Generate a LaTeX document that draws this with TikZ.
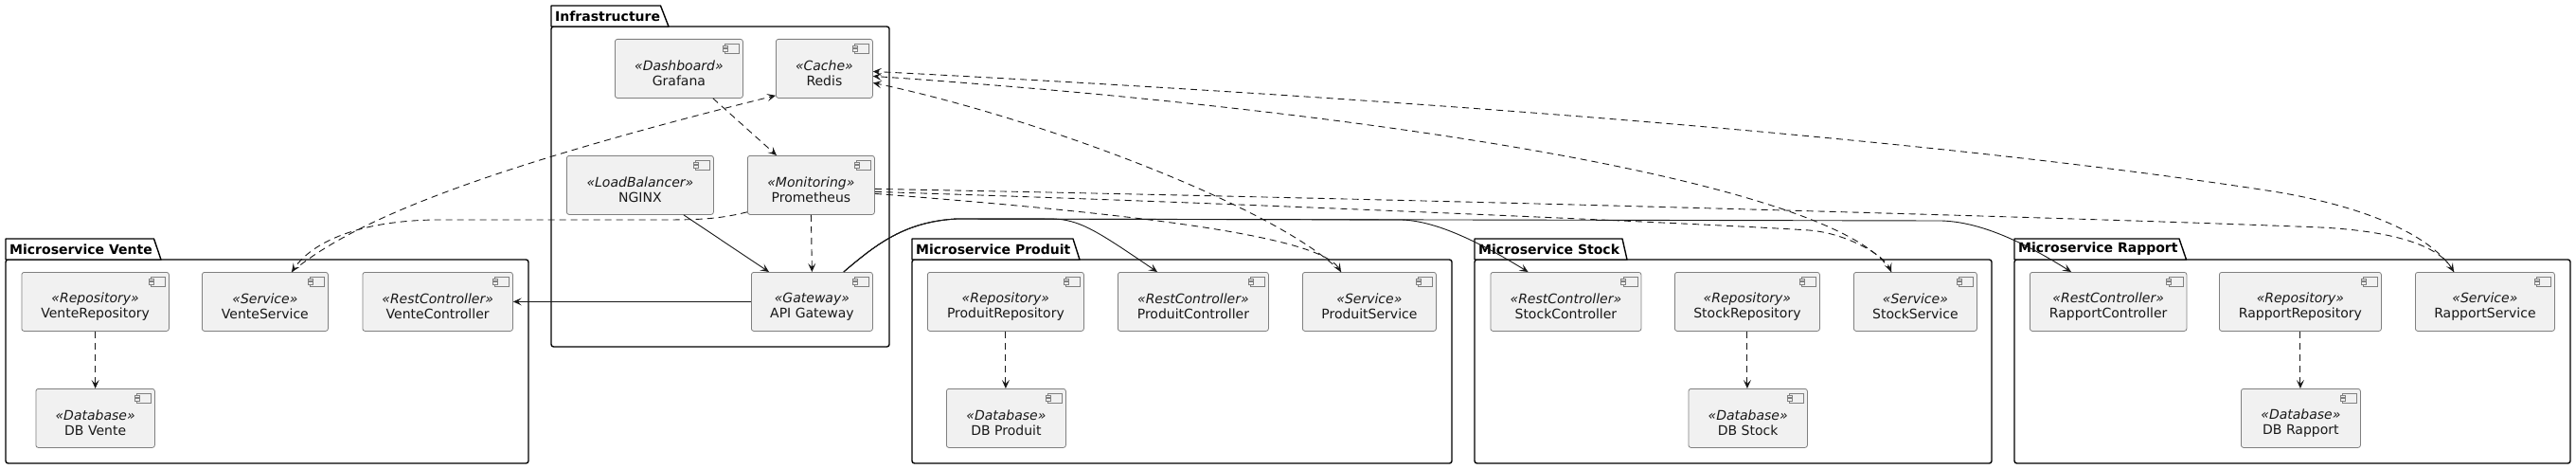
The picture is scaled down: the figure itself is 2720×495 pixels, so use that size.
\documentclass[tikz,border=0pt]{standalone}
\usepackage{fontspec}
\setmainfont{DejaVu Sans}
\usetikzlibrary{arrows.meta,calc}
\definecolor{boxfill}{HTML}{F1F1F1}
\definecolor{boxline}{HTML}{808080}
\definecolor{arr}{HTML}{181818}
\tikzset{
  comp/.style={draw=boxline, fill=boxfill, line width=0.8pt, rounded corners=2.5pt, inner sep=0pt, anchor=north west},
  ctext/.style={font=\fontsize{14}{16.2}\selectfont, align=center, inner sep=0pt, text=arr},
  pkg/.style={draw=black, line width=1.4pt, line join=round, fill=white},
  ptitle/.style={font=\bfseries\fontsize{14}{16}\selectfont, anchor=west, inner sep=0pt},
  icon/.style={draw=boxline, line width=0.7pt, fill=boxfill},
  sarrow/.style={draw=arr, line width=0.9pt, -{Stealth[length=9pt,width=8pt,inset=4pt]}},
  darrow/.style={sarrow, dash pattern=on 7pt off 5pt},
}
\newcommand\mycomp[7]{%
  \node[comp, minimum width={#4-#2}, minimum height={#5-#3}] (#1) at (#2,#3) {};
  \node[ctext] (#1-t) at ([yshift=-5pt]#1.center) {\textit{«#6»}\\#7};
  \draw[icon] ([xshift=-19pt,yshift=-5pt]#1.north east) rectangle ([xshift=-4pt,yshift=-15pt]#1.north east);
  \draw[icon] ([xshift=-21.5pt,yshift=-7pt]#1.north east) rectangle ([xshift=-16.5pt,yshift=-9.3pt]#1.north east);
  \draw[icon] ([xshift=-21.5pt,yshift=-10.7pt]#1.north east) rectangle ([xshift=-16.5pt,yshift=-13pt]#1.north east);
}
\newcommand\mypkg[9]{%
  \draw[pkg, rounded corners=2.5pt] (#2,#4) -- (#5,#4) -- (#5,#6) -- (#2,#6) -- cycle;
  \draw[pkg] (#2,#4) -- (#2,#3) -- (#7,#3) -- (#8,#4) -- cycle;
  \node[ptitle] (#1) at ({#2+4},{(#3+#4)/2}) {#9};
}
\begin{document}
\begin{tikzpicture}[x=1pt,y=-1pt]
\useasboundingbox (0,0) rectangle (2720,495);
% packages
\mypkg{pinf}{582}{6}{28}{939}{366}{697.5}{706}{Infrastructure}
\mypkg{pven}{6}{252}{274}{558}{489}{162.5}{170}{Microservice Vente}
\mypkg{ppro}{963}{252}{274}{1533}{489}{1133}{1140}{Microservice Produit}
\mypkg{psto}{1557}{252}{274}{2103}{489}{1713}{1718}{Microservice Stock}
\mypkg{prap}{2127}{252}{274}{2714}{489}{2301}{2308.5}{Microservice Rapport}
% components
\mycomp{graf}{649}{41}{784}{103}{Dashboard}{Grafana}
\mycomp{redis}{819}{41}{921}{103}{Cache}{Redis}
\mycomp{ngx}{598}{164}{753}{226}{LoadBalancer}{NGINX}
\mycomp{prom}{789}{164}{923}{226}{Monitoring}{Prometheus}
\mycomp{gw}{793}{287}{921}{349}{Gateway}{API Gateway}
\mycomp{vr}{22.5}{287}{178}{349}{Repository}{VenteRepository}
\mycomp{vs}{213}{287}{346}{349}{Service}{VenteService}
\mycomp{vc}{382.5}{287}{541}{349}{RestController}{VenteController}
\mycomp{vdb}{37.5}{410}{163}{472}{Database}{DB Vente}
\mycomp{pr}{979}{287}{1144}{349}{Repository}{ProduitRepository}
\mycomp{pc}{1180}{287}{1339}{349}{RestController}{ProduitController}
\mycomp{ps}{1375}{287}{1516}{349}{Service}{ProduitService}
\mycomp{pdb}{999}{410}{1125}{472}{Database}{DB Produit}
\mycomp{sc}{1573.5}{287}{1732.5}{349}{RestController}{StockController}
\mycomp{sr}{1768}{287}{1921}{349}{Repository}{StockRepository}
\mycomp{ss}{1957}{287}{2087}{349}{Service}{StockService}
\mycomp{sdb}{1782.5}{410}{1908}{472}{Database}{DB Stock}
\mycomp{rc}{2143}{287}{2308.5}{349}{RestController}{RapportController}
\mycomp{rr}{2343}{287}{2514}{349}{Repository}{RapportRepository}
\mycomp{rs}{2550}{287}{2697}{349}{Service}{RapportService}
\mycomp{rdb}{2366}{410}{2492}{472}{Database}{DB Rapport}
% anchor points
\coordinate (gwT) at ([xshift=-31pt]gw.north east);
\coordinate (pcT) at ([xshift=42pt]pc.north west);
\coordinate (scT) at ([xshift=40pt]sc.north west);
\coordinate (rcT) at ([xshift=44pt]rc.north west);
\coordinate (vsT) at ([xshift=95pt]vs.north west);
\coordinate (psT) at ([xshift=41pt]ps.north west);
\coordinate (ssT) at ([xshift=40pt]ss.north west);
\coordinate (rsT) at ([xshift=41pt]rs.north west);
\coordinate (redA) at ([yshift=-3pt]redis.east);
\coordinate (redB) at ([yshift=-8pt]redis.east);
\coordinate (redC) at ([yshift=-15pt]redis.east);
\coordinate (redV) at ([yshift=3pt]redis.south west);
\coordinate (promA) at ([yshift=-4pt]prom.east);
\coordinate (promB) at ([yshift=-7pt]prom.east);
\coordinate (promC) at ([yshift=-9pt]prom.east);
\coordinate (promV) at ([yshift=3pt]prom.south west);
% infrastructure links
\draw[darrow] ([xshift=-32pt]graf.south east) -- ([xshift=31pt]prom.north west);
\draw[sarrow] ([xshift=-32pt]ngx.south east) -- ([xshift=19pt]gw.north west);
\draw[darrow] (prom.south) -- (gw.north);
% gateway to controllers
\draw[sarrow] (gw.west) -- (vc.east);
\draw[sarrow] (gwT) .. controls (925,258) and (955,234) .. (1010,231) -- (1110,231) .. controls (1140,231) and (1160,245) .. (pcT);
\draw[sarrow] (gwT) .. controls (925,258) and (955,234) .. (1010,231) -- (1480,232) .. controls (1510,233) and (1550,248) .. (scT);
\draw[sarrow] (gwT) .. controls (925,258) and (955,234) .. (1010,231) -- (2050,233) .. controls (2080,234) and (2120,245) .. (rcT);
% prometheus to services
\draw[darrow] (promV) .. controls (760,231) and (740,232) .. (700,232) -- (460,232) .. controls (380,233) and (330,255) .. (vsT);
\draw[darrow] (promC) .. controls (1150,222) and (1390,245) .. (psT);
\draw[darrow] (promB) .. controls (1300,214) and (1800,236) .. (1910,243) .. controls (1950,246) and (1990,270) .. (ssT);
\draw[darrow] (promA) .. controls (1500,210) and (2200,230) .. (2450,240) .. controls (2530,244) and (2575,260) .. (rsT);
% services to redis
\draw[darrow] (vsT) .. controls (370,235) and (500,180) .. (redV);
\draw[darrow] (psT) .. controls (1350,220) and (1100,125) .. (redC);
\draw[darrow] (ssT) .. controls (1950,200) and (1500,120) .. (redB);
\draw[darrow] (rsT) .. controls (2570,250) and (2500,218) .. (2400,202) .. controls (2000,140) and (1400,100) .. (redA);
% repositories to databases
\draw[darrow] (vr.south) -- (vr.south |- vdb.north);
\draw[darrow] (pr.south) -- (pr.south |- pdb.north);
\draw[darrow] (sr.south) -- (sr.south |- sdb.north);
\draw[darrow] (rr.south) -- (rr.south |- rdb.north);
\end{tikzpicture}
\end{document}
